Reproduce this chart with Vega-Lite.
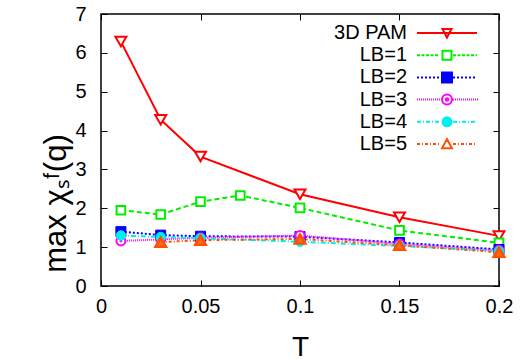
{
  "$schema": "https://vega.github.io/schema/vega-lite/v6.json",
  "autosize": {"type": "none"},
  "padding": {"left": 101, "top": 14, "right": 29, "bottom": 74},
  "width": 398,
  "height": 272,
  "background": "white",
  "config": {
    "view": {"stroke": "#000000", "strokeWidth": 1.5},
    "font": "Liberation Sans",
    "axis": {"labelFont": "Liberation Sans", "titleFont": "Liberation Sans", "labelColor": "#000", "titleColor": "#000", "tickColor": "#000", "domain": false, "grid": false, "titleFontWeight": "normal"},
    "legend": {"labelFont": "Liberation Sans"}
  },
  "data": {"values": [
    {"series": "3D PAM", "T": 0.01, "v": 6.29},
    {"series": "3D PAM", "T": 0.03, "v": 4.28},
    {"series": "3D PAM", "T": 0.05, "v": 3.33},
    {"series": "3D PAM", "T": 0.1, "v": 2.36},
    {"series": "3D PAM", "T": 0.15, "v": 1.77},
    {"series": "3D PAM", "T": 0.2, "v": 1.29},
    {"series": "LB=1", "T": 0.01, "v": 1.95},
    {"series": "LB=1", "T": 0.03, "v": 1.84},
    {"series": "LB=1", "T": 0.05, "v": 2.17},
    {"series": "LB=1", "T": 0.07, "v": 2.33},
    {"series": "LB=1", "T": 0.1, "v": 2.01},
    {"series": "LB=1", "T": 0.15, "v": 1.43},
    {"series": "LB=1", "T": 0.2, "v": 1.11},
    {"series": "LB=2", "T": 0.01, "v": 1.40},
    {"series": "LB=2", "T": 0.03, "v": 1.31},
    {"series": "LB=2", "T": 0.05, "v": 1.28},
    {"series": "LB=2", "T": 0.1, "v": 1.27},
    {"series": "LB=2", "T": 0.15, "v": 1.12},
    {"series": "LB=2", "T": 0.2, "v": 0.94},
    {"series": "LB=3", "T": 0.01, "v": 1.16},
    {"series": "LB=3", "T": 0.03, "v": 1.20},
    {"series": "LB=3", "T": 0.05, "v": 1.24},
    {"series": "LB=3", "T": 0.1, "v": 1.30},
    {"series": "LB=3", "T": 0.15, "v": 1.08},
    {"series": "LB=3", "T": 0.2, "v": 0.92},
    {"series": "LB=4", "T": 0.01, "v": 1.30},
    {"series": "LB=4", "T": 0.03, "v": 1.26},
    {"series": "LB=4", "T": 0.05, "v": 1.23},
    {"series": "LB=4", "T": 0.1, "v": 1.14},
    {"series": "LB=4", "T": 0.15, "v": 1.03},
    {"series": "LB=4", "T": 0.2, "v": 0.90},
    {"series": "LB=5", "T": 0.03, "v": 1.13},
    {"series": "LB=5", "T": 0.05, "v": 1.18},
    {"series": "LB=5", "T": 0.1, "v": 1.21},
    {"series": "LB=5", "T": 0.15, "v": 1.05},
    {"series": "LB=5", "T": 0.2, "v": 0.87}
  ]},
  "resolve": {"axis": {"x": "independent", "y": "independent"}},
  "encoding": {
    "x": {"field": "T", "type": "quantitative", "scale": {"domain": [0, 0.2], "nice": false, "zero": false}, "axis": null},
    "y": {"field": "v", "type": "quantitative", "scale": {"domain": [0, 7], "nice": false}, "axis": null}
  },
  "layer": [
    {
      "transform": [{"filter": "datum.series == '3D PAM'"}],
      "mark": {"type": "line", "strokeWidth": 2},
      "encoding": {
        "x": {"field": "T", "type": "quantitative",
          "axis": {"orient": "bottom", "values": [0, 0.05, 0.1, 0.15, 0.2], "format": "~g", "tickSize": -6, "labelPadding": 16, "labelFontSize": 20, "labelBaseline": "top", "labelFlush": false, "title": "T", "titleFontSize": 28, "titleBaseline": "alphabetic", "titleY": 69}},
        "y": {"field": "v", "type": "quantitative",
          "axis": {"orient": "left", "values": [0, 1, 2, 3, 4, 5, 6, 7], "tickSize": -6, "labelPadding": 21, "labelFontSize": 20, "labelFlush": false, "title": "max χₛᶠ(q)", "titleFontSize": 31, "titleAngle": 270, "titleBaseline": "alphabetic", "titleAlign": "center", "titleX": -36, "titleY": 189}},
        "color": {"field": "series", "type": "nominal",
          "scale": {"domain": ["3D PAM", "LB=1", "LB=2", "LB=3", "LB=4", "LB=5"], "range": ["#ff0000", "#00ee00", "#0000ff", "#ff00ff", "#00eeee", "#ff5000"]},
          "legend": {
            "orient": "none", "legendX": 336, "legendY": 9, "title": null, "padding": 0,
            "symbolSize": 100, "symbolStrokeWidth": 2, "rowPadding": 2.2,
            "labelFontSize": 20, "labelAlign": "right", "labelOffset": -50, "labelLimit": 300, "labelColor": "#000",
            "encode": {"symbols": {"update": {
              "shape": {"signal": "datum.value == '3D PAM' ? 'M-6,0H6M-0.9,-0.8L0.9,-0.8L0,0.9Z' : datum.value == 'LB=1' ? 'M-6,0h0.6m0.3,0h0.6m0.3,0h0.6m0.3,0h0.6m0.3,0h0.6m0.3,0M1.2,0h0.6m0.3,0h0.6m0.3,0h0.6m0.3,0h0.6m0.3,0h0.6m0.3,0h0.3M-0.9,-0.9h1.8v1.8h-1.8Z' : datum.value == 'LB=2' ? 'M-6,0h0.4m0.4,0h0.4m0.4,0h0.4m0.4,0h0.4m0.4,0h0.4m0.4,0h0.4M1.2,0h0.4m0.4,0h0.4m0.4,0h0.4m0.4,0h0.4m0.4,0h0.4m0.4,0h0.4M-1,-1h2v2h-2Z' : datum.value == 'LB=3' ? 'M-6,0h0.2m0.2,0h0.2m0.2,0h0.2m0.2,0h0.2m0.2,0h0.2m0.2,0h0.2m0.2,0h0.2m0.2,0h0.2m0.2,0h0.2m0.2,0h0.2m0.2,0h0.2m0.2,0h0.2M1.2,0h0.2m0.2,0h0.2m0.2,0h0.2m0.2,0h0.2m0.2,0h0.2m0.2,0h0.2m0.2,0h0.2m0.2,0h0.2m0.2,0h0.2m0.2,0h0.2m0.2,0h0.2m0.2,0h0.2m0.2,0h0.2M-1,0a1,1 0 1,0 2,0a1,1 0 1,0 -2,0M-0.25,0a0.25,0.25 0 1,0 0.5,0a0.25,0.25 0 1,0 -0.5,0' : datum.value == 'LB=4' ? 'M-6,0h0.8m0.4,0h0.2m0.4,0h0.8m0.4,0h0.2m0.4,0h0.8M1.2,0h0.8m0.4,0h0.2m0.4,0h0.8m0.4,0h0.2m0.4,0h0.8M-0.9,0a0.9,0.9 0 1,0 1.8,0a0.9,0.9 0 1,0 -1.8,0' : 'M-6,0h0.6m0.4,0h0.2m0.4,0h0.6m0.4,0h0.2m0.4,0h0.6m0.4,0h0.2M1.2,0h0.6m0.4,0h0.2m0.4,0h0.6m0.4,0h0.2m0.4,0h0.6m0.4,0h0.2M-1,0.85L1,0.85L0,-1Z'"},
              "fill": {"signal": "datum.value == 'LB=2' ? '#0000ff' : datum.value == 'LB=4' ? '#00eeee' : 'transparent'"},
              "fillOpacity": {"value": 1},
              "strokeDash": {"value": []},
              "strokeWidth": {"value": 2},
              "opacity": {"value": 1}
            }}}
          }}
      }
    },
    {"transform": [{"filter": "datum.series == 'LB=1'"}], "mark": {"type": "line", "strokeWidth": 2, "color": "#00ee00", "strokeDash": [5, 3]}, "encoding": {}},
    {"transform": [{"filter": "datum.series == 'LB=2'"}], "mark": {"type": "line", "strokeWidth": 2, "color": "#0000ff", "strokeDash": [2, 2]}, "encoding": {}},
    {"transform": [{"filter": "datum.series == 'LB=3'"}], "mark": {"type": "line", "strokeWidth": 2, "color": "#ff00ff", "strokeDash": [1, 1]}, "encoding": {}},
    {"transform": [{"filter": "datum.series == 'LB=4'"}], "mark": {"type": "line", "strokeWidth": 2, "color": "#00eeee", "strokeDash": [5, 2, 1, 2]}, "encoding": {}},
    {"transform": [{"filter": "datum.series == 'LB=5'"}], "mark": {"type": "line", "strokeWidth": 2, "color": "#ff5000", "strokeDash": [3, 2, 1, 2]}, "encoding": {}},
    {"transform": [{"filter": "datum.series == '3D PAM'"}], "mark": {"type": "point", "shape": "triangle-down", "size": 120, "filled": true, "fill": "#ffffff", "stroke": "#ff0000", "strokeWidth": 2, "opacity": 1},
      "encoding": {
        "x": {"field": "T", "type": "quantitative", "axis": {"orient": "top", "values": [0, 0.05, 0.1, 0.15, 0.2], "tickSize": -6, "labels": false, "title": null}},
        "y": {"field": "v", "type": "quantitative", "axis": {"orient": "right", "values": [0, 1, 2, 3, 4, 5, 6, 7], "tickSize": -6, "labels": false, "title": null}}
      }},
    {"transform": [{"filter": "datum.series == 'LB=1'"}], "mark": {"type": "point", "shape": "square", "size": 75, "filled": true, "fill": "#ffffff", "stroke": "#00ee00", "strokeWidth": 2, "opacity": 1}, "encoding": {}},
    {"transform": [{"filter": "datum.series == 'LB=2'"}], "mark": {"type": "point", "shape": "square", "size": 100, "filled": true, "fill": "#0000ff", "stroke": "#0000ff", "strokeWidth": 1, "opacity": 1}, "encoding": {}},
    {"transform": [{"filter": "datum.series == 'LB=3'"}], "mark": {"type": "point", "shape": "circle", "size": 80, "filled": true, "fill": "#ffffff", "stroke": "#ff00ff", "strokeWidth": 2, "opacity": 1}, "encoding": {}},
    {"transform": [{"filter": "datum.series == 'LB=3'"}], "mark": {"type": "point", "shape": "circle", "size": 8, "filled": true, "color": "#ff00ff", "opacity": 1}, "encoding": {}},
    {"transform": [{"filter": "datum.series == 'LB=4'"}], "mark": {"type": "point", "shape": "circle", "size": 90, "filled": true, "fill": "#00eeee", "stroke": "#00eeee", "strokeWidth": 1, "opacity": 1}, "encoding": {}},
    {"transform": [{"filter": "datum.series == 'LB=5'"}], "mark": {"type": "point", "shape": "triangle-up", "size": 110, "filled": true, "fill": "#ff6a20", "stroke": "#ff5000", "strokeWidth": 2.5, "opacity": 1}, "encoding": {}}
  ]
}
